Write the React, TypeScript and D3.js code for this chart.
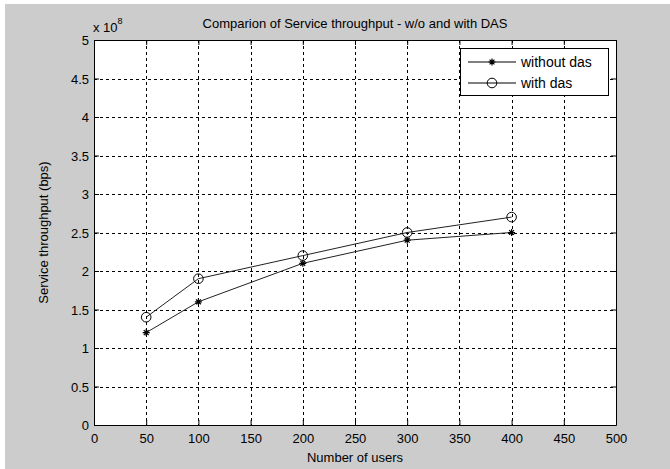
import React, { useRef, useEffect } from "react";
import { select, scaleLinear, line, axisBottom, axisLeft, axisTop, axisRight } from "d3";

// data
const users = [50, 100, 200, 300, 400];
const withoutDas = [1.2, 1.6, 2.1, 2.4, 2.5];
const withDas = [1.4, 1.9, 2.2, 2.5, 2.7];
const xTicks = [0, 50, 100, 150, 200, 250, 300, 350, 400, 450, 500];
const yTicks = [0, 0.5, 1, 1.5, 2, 2.5, 3, 3.5, 4, 4.5, 5];
const seriesNames = ["without das", "with das"];

const W = 670;
const H = 469;
const FONT = "'Liberation Sans', Arial, sans-serif";

function App() {
  const svgRef = useRef<SVGSVGElement>(null);

  useEffect(() => {
    const svg = select(svgRef.current);
    svg.selectAll("*").remove();

    const left = 94, right = 616, top = 40, bottom = 425;

    const x = scaleLinear().domain([0, 500]).range([left, right]);
    const y = scaleLinear().domain([0, 5]).range([bottom, top]);

    // figure background
    svg.append("rect").attr("x", 5).attr("y", 4).attr("width", W - 5).attr("height", H - 4).attr("fill", "#cccccc");
    // axes background
    svg.append("rect").attr("x", left).attr("y", top).attr("width", right - left).attr("height", bottom - top).attr("fill", "#fff");

    // grid (dotted, matlab style)
    const grid = svg.append("g").attr("stroke", "#000").attr("stroke-width", 1).attr("stroke-dasharray", "3,3");
    grid.selectAll(".gx").data(xTicks.slice(1, -1)).join("line")
      .attr("x1", (d) => Math.round(x(d)) + 0.5).attr("x2", (d) => Math.round(x(d)) + 0.5)
      .attr("y1", top).attr("y2", bottom);
    grid.selectAll(".gy").data(yTicks.slice(1, -1)).join("line")
      .attr("y1", (d) => Math.round(y(d)) + 0.5).attr("y2", (d) => Math.round(y(d)) + 0.5)
      .attr("x1", left).attr("x2", right);

    // axes
    const fmt = (d: any) => String(d);
    const xAxis = axisBottom(x).tickValues(xTicks).tickFormat(fmt).tickSize(-5).tickSizeOuter(0).tickPadding(10);
    const yAxis = axisLeft(y).tickValues(yTicks).tickFormat(fmt).tickSize(-5).tickSizeOuter(0).tickPadding(5);
    const gx = svg.append("g").attr("transform", `translate(0,${bottom})`).call(xAxis);
    const gy = svg.append("g").attr("transform", `translate(${left},0)`).call(yAxis);
    svg.append("g").attr("transform", `translate(0,${top})`)
      .call(axisTop(x).tickValues(xTicks).tickSize(-5).tickSizeOuter(0).tickFormat(() => ""));
    svg.append("g").attr("transform", `translate(${right},0)`)
      .call(axisRight(y).tickValues(yTicks).tickSize(-5).tickSizeOuter(0).tickFormat(() => ""));
    svg.selectAll(".domain").attr("stroke", "#000");
    svg.selectAll(".tick line").attr("stroke", "#000");
    [gx, gy].forEach((g) => g.selectAll("text").attr("font-family", FONT).attr("font-size", 13).attr("fill", "#000"));
    gy.selectAll(".tick text").attr("dy", "0.35em");
    gx.selectAll(".tick text").attr("dy", "0.6em");

    // series
    const lineGen = line<number>()
      .x((d, i) => x(users[i]))
      .y((d) => y(d));

    const star = (g: any, cx: number, cy: number) => {
      const s = 3.5;
      const p = `M${cx - s},${cy}L${cx + s},${cy}M${cx},${cy - s}L${cx},${cy + s}` +
        `M${cx - s * 0.7},${cy - s * 0.7}L${cx + s * 0.7},${cy + s * 0.7}M${cx - s * 0.7},${cy + s * 0.7}L${cx + s * 0.7},${cy - s * 0.7}`;
      g.append("path").attr("d", p).attr("stroke", "#000").attr("stroke-width", 1.2).attr("fill", "none");
    };
    const circ = (g: any, cx: number, cy: number) => {
      g.append("circle").attr("cx", cx).attr("cy", cy).attr("r", 4.8).attr("fill", "none").attr("stroke", "#000").attr("stroke-width", 1);
    };

    const plot = svg.append("g");
    plot.append("path").datum(withoutDas).attr("d", lineGen).attr("fill", "none").attr("stroke", "#222").attr("stroke-width", 1);
    plot.append("path").datum(withDas).attr("d", lineGen).attr("fill", "none").attr("stroke", "#222").attr("stroke-width", 1);
    withoutDas.forEach((v, i) => star(plot, x(users[i]), y(v)));
    withDas.forEach((v, i) => circ(plot, x(users[i]), y(v)));

    // legend
    const lg = svg.append("g");
    lg.append("rect").attr("x", 460.5).attr("y", 48.5).attr("width", 148).attr("height", 47)
      .attr("fill", "#fff").attr("stroke", "#000").attr("stroke-width", 1);
    const markers = [star, circ];
    seriesNames.forEach((name, i) => {
      const ry = 62 + i * 21;
      lg.append("line").attr("x1", 468).attr("x2", 516).attr("y1", ry).attr("y2", ry).attr("stroke", "#000");
      markers[i](lg, 492, ry);
      lg.append("text").attr("x", 521).attr("y", ry).attr("dy", "0.35em").text(name)
        .attr("font-family", FONT).attr("font-size", 14).attr("fill", "#000");
    });

    // texts
    svg.append("text").attr("x", 355).attr("y", 28).attr("text-anchor", "middle")
      .attr("font-family", FONT).attr("font-size", 13).attr("fill", "#000")
      .text("Comparion of Service throughput - w/o and with DAS");
    svg.append("text").attr("x", 355).attr("y", 462).attr("text-anchor", "middle")
      .attr("font-family", FONT).attr("font-size", 13).attr("fill", "#000")
      .text("Number of users");
    svg.append("text").attr("transform", `translate(48,${(top + bottom) / 2}) rotate(-90)`).attr("text-anchor", "middle")
      .attr("font-family", FONT).attr("font-size", 13).attr("fill", "#000")
      .text("Service throughput (bps)");
    const exp = svg.append("text").attr("x", 93).attr("y", 32)
      .attr("font-family", FONT).attr("font-size", 13).attr("fill", "#000");
    exp.append("tspan").text("x 10");
    exp.append("tspan").attr("dy", -8).attr("font-size", 9).text("8");
  }, []);

  return (
    <svg ref={svgRef} width={W} height={H} style={{ position: "absolute", left: 0, top: 0, background: "#fff" }} />
  );
}

export default App;
